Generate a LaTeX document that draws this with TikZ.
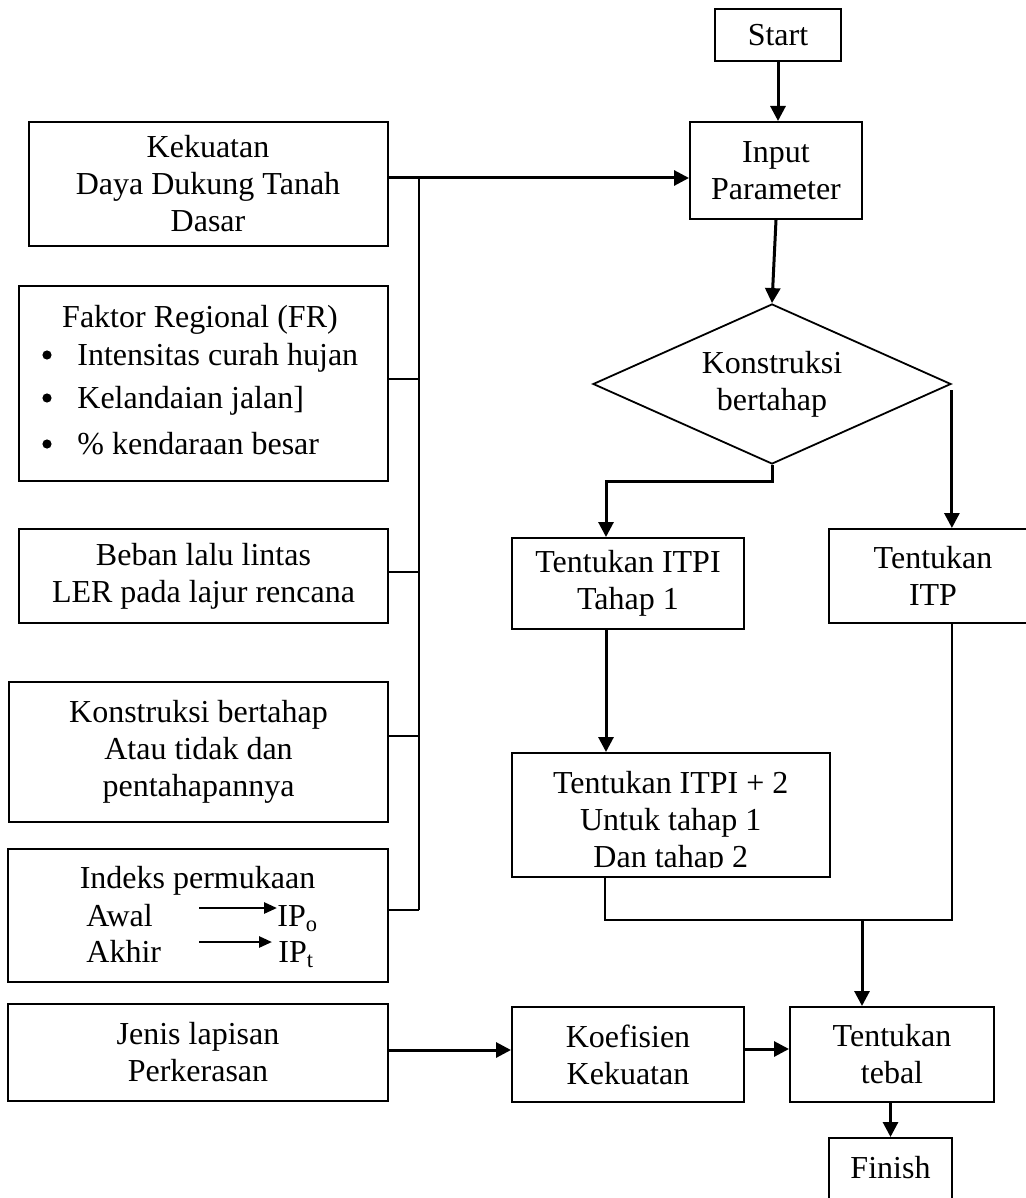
\documentclass[tikz,border=0pt]{standalone}
\usepackage{fontspec}
\setmainfont{Liberation Serif}
\usetikzlibrary{arrows.meta,shapes.geometric}
\newcommand{\fsz}{\fontsize{16}{18.5}\selectfont}
\begin{document}
\begin{tikzpicture}[x=0.5pt,y=-0.5pt,
  box/.style={draw,line width=1pt,inner sep=0pt,align=center,font=\fsz},
  txt/.style={inner sep=0pt,font=\fsz},
  dot/.style={circle,fill,inner sep=0pt,minimum size=4.6pt},
  arr/.style={line width=1.5pt,-{Triangle[length=7.5pt,width=7.5pt]}},
  conn/.style={line width=1.3pt},
  bus/.style={line width=1pt},
  small/.style={line width=1.3pt,-{Triangle[length=6.5pt,width=5.5pt]}}]
\path[use as bounding box,fill=white] (0,0) rectangle (1026,1198);

% right column
\node[box,minimum width=63pt,minimum height=26pt] (start) at (778,35) {Start};
\node[box,minimum width=86pt,minimum height=48.5pt] (input) at (776,170.5) {Input\\Parameter};
\node[diamond,draw,line width=0.9pt,inner sep=0pt,aspect=2.24,minimum width=179pt,minimum height=80pt,align=center,font=\fsz] (dia) at (772,384) {Konstruksi\\bertahap};
\node[box,minimum width=116pt,minimum height=45.5pt] (itpi1) at (628,583.5) {Tentukan ITPI\\Tahap 1};
\node[box,minimum width=104pt,minimum height=47pt] (itp) at (933,576) {Tentukan\\ITP};
\node[box,minimum width=158.75pt,minimum height=62pt] (itpi2) at (670.75,815) {};
\begin{scope}
\clip (512,753) rectangle (830,867);
\node[txt,align=center] (itpi2t) at (670.75,823) {Tentukan ITPI + 2\\Untuk tahap 1\\Dan tahap 2};
\end{scope}
\node[box,minimum width=116pt,minimum height=47.5pt] (koef) at (628,1054.5) {Koefisien\\Kekuatan};
\node[box,minimum width=102pt,minimum height=47.5pt] (tebal) at (892,1054.5) {Tentukan\\tebal};
\node[box,minimum width=61.5pt,minimum height=36pt] (finish) at (890.5,1174) {};
\node[txt,anchor=base] (finisht) at (890.5,1178) {Finish};

% left column
\node[box,minimum width=179.5pt,minimum height=62pt] (kek) at (208,184) {Kekuatan\\Daya Dukung Tanah\\Dasar};
\node[box,minimum width=184.5pt,minimum height=97.5pt] (fr) at (203.5,383.5) {};
\node[txt,anchor=base] (frt) at (200,327) {Faktor Regional (FR)};
\node[dot] (bu1) at (47,355) {};
\node[txt,anchor=base west] (it1) at (77,365) {Intensitas curah hujan};
\node[dot] (bu2) at (47,398) {};
\node[txt,anchor=base west] (it2) at (77,408) {Kelandaian jalan]};
\node[dot] (bu3) at (47,444) {};
\node[txt,anchor=base west] (it3) at (77,454) {\% kendaraan besar};
\node[box,minimum width=184.5pt,minimum height=47pt] (beban) at (203.5,576) {Beban lalu lintas\\LER pada lajur rencana};
\node[box,minimum width=189.5pt,minimum height=70pt] (kons) at (198.5,752) {Konstruksi bertahap\\Atau tidak dan\\pentahapannya};
\node[box,minimum width=190pt,minimum height=66.5pt] (indeks) at (198,915.5) {};
\node[txt,anchor=base] (indt) at (197.5,888) {Indeks permukaan};
\node[txt,anchor=base west] (awal) at (86,926) {Awal};
\node[txt,anchor=base west] (akhir) at (86,962) {Akhir};
\node[txt,anchor=base west] (ipo) at (277,926) {IP\textsubscript{o}};
\node[txt,anchor=base west] (ipt) at (278,962) {IP\textsubscript{t}};
\coordinate (a1) at (199,908);
\coordinate (a2) at (199,942);
\draw[small] (a1) -- (a1 -| ipo.west);
\draw[small] (a2) -- ([xshift=-3pt]a2 -| ipt.west);
\node[box,minimum width=190pt,minimum height=48.5pt] (jenis) at (198,1052.5) {Jenis lapisan\\Perkerasan};

% bus of inputs
\coordinate (bt) at (419,178);
\coordinate (bb) at (419,910);
\draw[arr] (kek.east |- bt) -- (input.west |- bt);
\draw[bus] (bt) -- (bb);
\draw[bus] (fr.east |- 0,379) -- (bt |- 0,379);
\draw[bus] (beban.east |- 0,572) -- (bt |- 0,572);
\draw[bus] (kons.east |- 0,736) -- (bt |- 0,736);
\draw[bus] (indeks.east |- bb) -- (bb);

% main flow
\draw[arr] (start.south) -- (start.south |- input.north);
\draw[arr] (input.south) -- (dia.north);
\coordinate (j1) at (606,481);
\draw[arr] (dia.south) -- (dia.south |- j1) -- (j1) -- (j1 |- itpi1.north);
\draw[arr] ([yshift=-3pt]dia.east) -- (dia.east |- itp.north);
\draw[arr] (j1 |- itpi1.south) -- (j1 |- itpi2.north);
\coordinate (j2) at (605,920);
\coordinate (j3) at (862,920);
\draw[conn] (j2 |- itpi2.south) -- (j2) -- (j2 -| dia.east) -- (dia.east |- itp.south);
\draw[arr] (j3) -- (j3 |- tebal.north);
\draw[arr] (jenis.east |- 0,1050) -- (koef.west |- 0,1050);
\draw[arr] (koef.east |- 0,1049) -- (tebal.west |- 0,1049);
\draw[arr] (finish.north |- tebal.south) -- (finish.north);
\end{tikzpicture}
\end{document}
